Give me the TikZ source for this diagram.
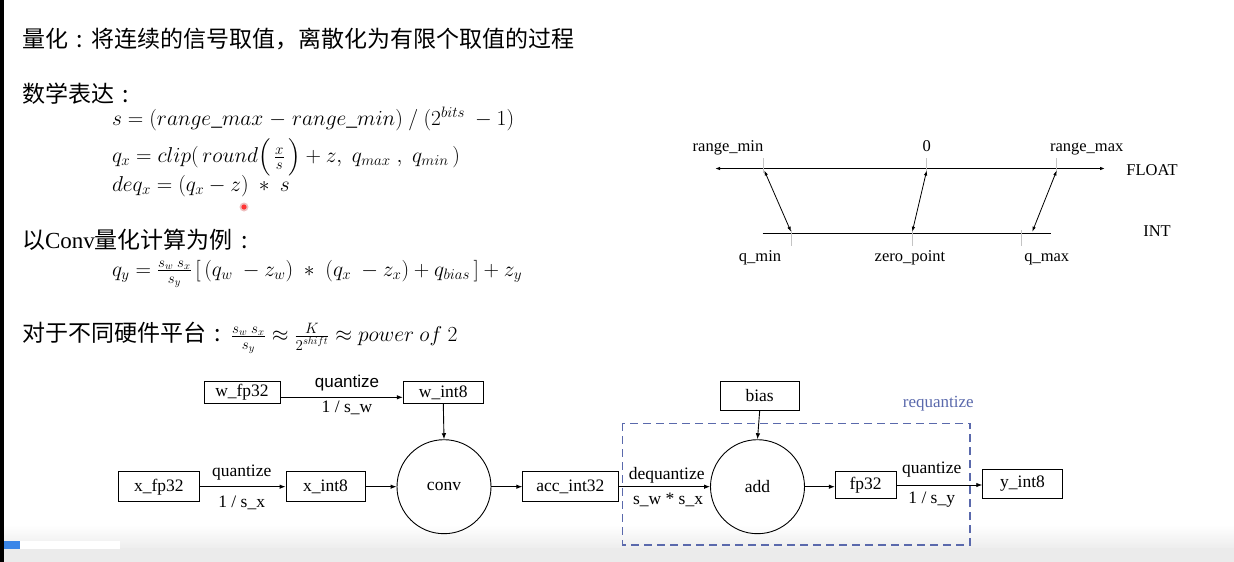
\RequirePackage{fix-cm}
\documentclass[tikz,border=0pt]{standalone}
\usepackage{amsmath}
\usepackage{fontspec}
\setmainfont{Liberation Serif}
\newfontfamily\cjk{Noto Sans CJK SC}
\newfontfamily\sansf{Liberation Sans}
\usetikzlibrary{arrows.meta,calc}
\definecolor{reqblue}{HTML}{5A69AC}
\definecolor{tickgray}{HTML}{C4C4C4}
\definecolor{barblue}{HTML}{3A86E8}
\newcommand{\zc}{\makebox[1em][c]{:}}
\newcommand{\sfr}[2]{\genfrac{}{}{0.6pt}{}{\mbox{\fontsize{15}{16}\selectfont$#1$}}{\mbox{\fontsize{15}{16}\selectfont$#2$}}}
\begin{document}
\begin{tikzpicture}[x=1pt,y=-1pt,
  plain/.style={inner sep=0pt,outer sep=0pt},
  cjktext/.style={plain,anchor=west,font=\cjk\fontsize{23}{27}\selectfont},
  eqtext/.style={plain,anchor=base west,font=\fontsize{21.5}{25}\selectfont},
  axlabel/.style={plain,anchor=base,font=\fontsize{16.5}{19}\selectfont},
  box/.style={draw,line width=0.9pt,inner sep=0pt,font=\fontsize{17.5}{20}\selectfont},
  opcircle/.style={draw,circle,line width=0.9pt,inner sep=0pt,minimum size=94pt,font=\fontsize{17.5}{20}\selectfont},
  elabel/.style={plain,font=\fontsize{17.5}{20}\selectfont},
  arr/.style={line width=0.9pt,-{Latex[length=6pt,width=4.5pt]}},
  dbl/.style={line width=0.8pt,{Latex[length=5pt,width=3.5pt]}-{Latex[length=5pt,width=3.5pt]}},
  tick/.style={tickgray,line width=1pt}
]
\useasboundingbox (0,0) rectangle (1234,562);
\fill[white] (0,0) rectangle (1234,562);
% bottom band of the screenshot
\shade[top color=white,bottom color=black!7] (0,525) rectangle (1234,548);
\fill[black!8] (0,548) rectangle (1234,562);
\fill[barblue] (0,541) rectangle (20,549);
\fill[white] (20,541) rectangle (120,549);
\fill[black] (0,0) rectangle (4,562);

% ---------------- left texts ----------------
\node[cjktext] (title) at (22,39) {量化\zc 将连续的信号取值，离散化为有限个取值的过程};
\node[cjktext] (mathhead) at (22,94) {数学表达\zc};
\node[eqtext] (eq1) at (112,125.5) {$s = (range\_max\mkern1mu - \mkern1mu range\_min)\ /\ (2^{bits}\ - 1)$};
\node[eqtext] (eq2) at (112,162.5) {$q_x = clip(\,round\Bigl(\,\sfr{x}{s}\,\Bigr) + z,\; q_{max}\;,\; q_{min}\,)$};
\node[eqtext] (eq3) at (112,191) {$deq_x = (q_x - z)\ *\ s$};
\fill[red!75!black,opacity=0.25] (244,207) circle (4.5);
\fill[red!80] (244,207) circle (2.6);
\node[cjktext] (convhead) at (22,240) {以{\rmfamily Conv}量化计算为例\zc};
\node[eqtext] (eq4) at (112,276) {$q_y = \sfr{s_w\ s_x}{s_y}\,[\,(q_w\ - z_w) \;*\; (q_x\ - z_x) + q_{bias}\,] + z_y$};
\node[cjktext] (hwhead) at (22,333) {对于不同硬件平台\zc};
\node[eqtext] (eq5) at ([xshift=2pt]hwhead.base east) {$\sfr{s_w\ s_x}{s_y} \approx \sfr{K}{2^{shift}} \approx power\ of\ 2$};

% ---------------- FLOAT / INT diagram ----------------
\coordinate (fl) at (715,168.5);
\coordinate (fr) at (1105,168.5);
\draw[line width=1pt,{Latex[length=5pt,width=3.5pt]}-{Latex[length=5pt,width=3.5pt]}] (fl) -- (fr);
\coordinate (il) at (762.7,233.3);
\coordinate (ir) at (1050.7,233.3);
\draw[line width=1.2pt] (il) -- (ir);
\draw[tick] (763.3,158) -- (763.3,173);
\draw[tick] (926.7,158) -- (926.7,173);
\draw[tick] (1056.7,158) -- (1056.7,173);
\draw[tick] (791.7,230) -- (791.7,246);
\draw[tick] (912.3,230) -- (912.3,246);
\draw[tick] (1021.7,230) -- (1021.7,246);
\node[axlabel] (lrmin) at (728,151.5) {range\_min};
\node[axlabel] (lzero) at (926.7,151.5) {0};
\node[axlabel] (lrmax) at (1086.7,151.5) {range\_max};
\node[axlabel] (lfloat) at (1152,175) {FLOAT};
\node[axlabel] (lint) at (1157,236) {INT};
\node[axlabel] (lqmin) at (760,261) {q\_min};
\node[axlabel] (lzp) at (910,261) {zero\_point};
\node[axlabel] (lqmax) at (1046.7,261) {q\_max};
\coordinate (prmin) at (764.3,170.5);
\coordinate (pqmin) at (791,231.7);
\coordinate (pzero) at (926.7,170.5);
\coordinate (pzp) at (912.3,231.7);
\coordinate (prmax) at (1056.7,170.5);
\coordinate (pqmax) at (1032.3,231.7);
\draw[dbl] (prmin) -- (pqmin);
\draw[dbl] (pzero) -- (pzp);
\draw[dbl] (prmax) -- (pqmax);

% ---------------- conv requantize graph ----------------
\node[box,minimum width=76pt,minimum height=21.5pt] (wfp) at (242,392.5) {w\_fp32};
\node[box,minimum width=80pt,minimum height=21.5pt] (wint) at (443.3,392.5) {w\_int8};
\node[box,minimum width=81pt,minimum height=30pt] (xfp) at (158.8,486.7) {x\_fp32};
\node[box,minimum width=79pt,minimum height=30pt] (xint) at (325.5,486.7) {x\_int8};
\node[opcircle] (conv) at (444,486.7) {conv};
\node[box,minimum width=95.3pt,minimum height=30pt] (acc) at (570.4,486.7) {acc\_int32};
\node[opcircle] (add) at (757.5,486.7) {add};
\node[box,minimum width=79.3pt,minimum height=28.3pt] (bias) at (759.7,396) {bias};
\node[box,minimum width=60.7pt,minimum height=27.3pt] (fp) at (865.7,484.7) {fp32};
\node[box,minimum width=79.6pt,minimum height=29pt] (yint) at (1022.5,483.5) {y\_int8};

\draw[arr] (wfp.east |- 0,397.3) -- (wint.west |- 0,397.3);
\node[plain,font=\sansf\fontsize{17}{20}\selectfont] (qw) at (347,383) {quantize};
\node[elabel] (sw) at (347,408) {1 / s\_w};
\draw[arr] (wint.south) -- (conv.north);
\draw[arr] (xfp.east) -- (xint.west);
\node[elabel] (qx) at (241.7,473) {quantize};
\node[elabel] (sx) at (241.7,503) {1 / s\_x};
\draw[arr] (xint.east) -- (conv.west);
\draw[arr] (conv.east) -- (acc.west);
\draw[arr] (acc.east) -- (add.west);
\node[elabel] (dq) at (666.7,475) {dequantize};
\node[elabel] (swsx) at (668,500) {s\_w * s\_x};
\draw[arr] (bias.south) -- (add.north);
\draw[arr] (add.east) -- (fp.west |- add.east);
\draw[arr] (fp.east |- 0,485) -- (yint.west |- 0,485);
\node[elabel] (qy) at (931.7,470) {quantize};
\node[elabel] (sy) at (931.7,500) {1 / s\_y};

\coordinate (rq1) at (622.7,423.3);
\coordinate (rq2) at (970,545);
\draw[reqblue,line width=1.4pt,dash pattern=on 8pt off 5pt] (rq1) rectangle (rq2);
\node[plain,font=\fontsize{17}{20}\selectfont,text=reqblue] (rqlabel) at (938.3,403.3) {requantize};
\end{tikzpicture}
\end{document}
